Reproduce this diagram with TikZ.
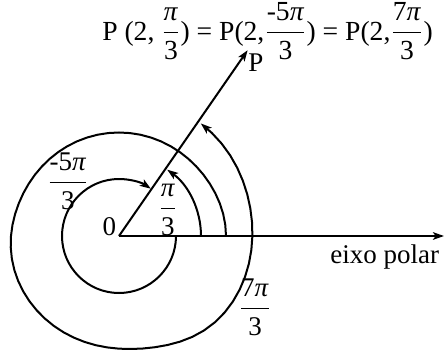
\documentclass[tikz,border=0pt]{standalone}
\usepackage{amsmath}
\usepackage{fontspec}
\setmainfont{Liberation Serif}
\usetikzlibrary{arrows.meta}
\newcommand\fr[2]{$\dfrac{\text{#1}}{\text{#2}}$}
\newcommand\pii{\textit{π}}
\begin{document}
\begin{tikzpicture}[x=0.5pt,y=0.5pt, line width=1pt,
  arr/.style={-{Stealth[length=5.5pt,width=3.8pt,inset=1.3pt]}},
  lbl/.style={font=\fontsize{13.5}{16}\selectfont, inner sep=0pt},
  declare function={sg(\t,\c,\w)=1/(1+exp(max(-9,min(9,(\c-\t)/\w))));
    rr(\t)=103.5+3.5*exp(-min(9,(\t/30)^2))+7.5*sg(\t,175,12)+22*sg(\t,300,12)+7*sg(\t,390,12);}]
\useasboundingbox (-119,-113) rectangle (326,236);
\coordinate (O) at (0,0);
\coordinate (A) at (325,0);
\coordinate (T) at (55.3:226);
\coordinate (S1) at (82,0);
\coordinate (S2) at (57,0);
\draw[arr] (O) -- (A);
\draw[arr] (O) -- (T);
\draw[arr] (S1) arc[start angle=0,end angle=54,radius=82];
\draw[arr] (S2) arc[start angle=0,end angle=-304,radius=57];
\draw[arr] plot[domain=0:414, samples=70, variable=\t] ({rr(\t)*cos(\t)},{rr(\t)*sin(\t)});
\node[lbl, anchor=base east] (zero) at (-2,1) {0};
\node[lbl] (m5) at (-51,55) {\fr{-5\pii}{3}};
\node[lbl] (p3) at (49,26) {\fr{\pii}{3}};
\node[lbl] (s7) at (136,-71) {\fr{7\pii}{3}};
\node[lbl, anchor=east] (eixo) at (321,-21.5) {eixo polar};
\node[lbl] (P) at (137,173) {P};
\node[lbl, anchor=base] (title) at (148.5,196) {\fontsize{13.8}{16}\selectfont P (2, \fr{\pii}{3}) = P(2,\fr{-5\pii}{3}) = P(2,\fr{7\pii}{3})};
\end{tikzpicture}
\end{document}
